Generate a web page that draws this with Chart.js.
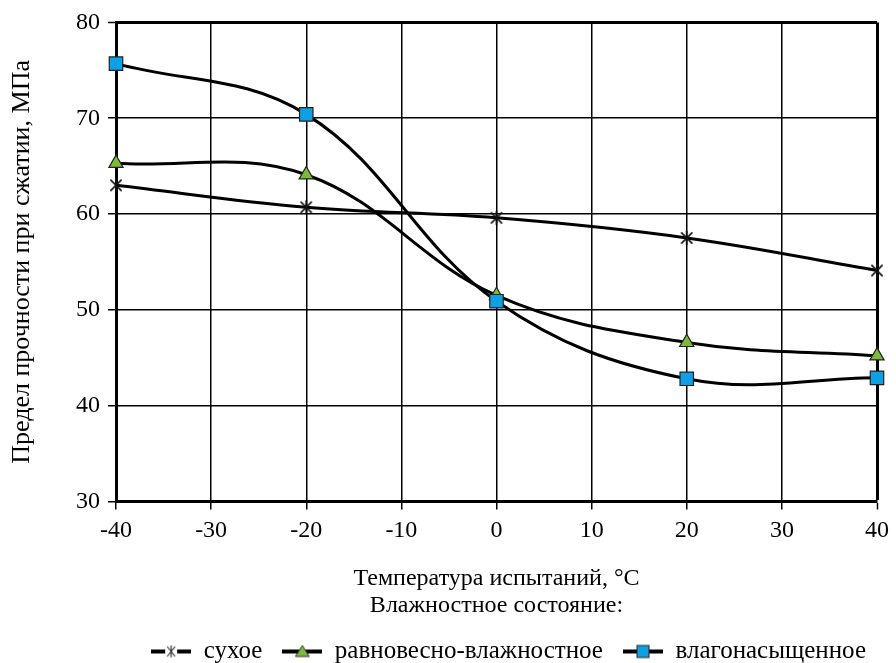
<!DOCTYPE html>
<html><head><meta charset="utf-8">
<script src="https://cdn.jsdelivr.net/npm/chart.js@4"></script>
<style>html,body{margin:0;padding:0;background:#fff}#w{width:896px;height:663px}</style>
</head><body><div id="w"><canvas id="c" width="896" height="663"></canvas></div>
<script>
const temperatures = [-40, -20, 0, 20, 40];
const dry = [63.0, 60.7, 59.6, 57.5, 54.1];
const equilibrium = [65.3, 64.1, 51.5, 46.6, 45.2];
const saturated = [75.7, 70.4, 50.9, 42.8, 42.9];
const seriesNames = ['сухое', 'равновесно-влажностное', 'влагонасыщенное'];
const yTicks = [30, 40, 50, 60, 70, 80];
const xTicks = [-40, -30, -20, -10, 0, 10, 20, 30, 40];

function starCanvas(size) {
  const c = document.createElement('canvas');
  c.width = size + 4; c.height = size + 4;
  const g = c.getContext('2d');
  const cx = c.width / 2, cy = c.height / 2, r = size / 2;
  g.strokeStyle = '#111'; g.lineWidth = 1.6;
  g.beginPath();
  g.moveTo(cx - r * 0.8, cy - r * 0.8); g.lineTo(cx + r * 0.8, cy + r * 0.8);
  g.moveTo(cx + r * 0.8, cy - r * 0.8); g.lineTo(cx - r * 0.8, cy + r * 0.8);
  g.moveTo(cx, cy - r); g.lineTo(cx, cy + r);
  g.stroke();
  return c;
}
function legendCanvas(kind) {
  const W = 40, H = 18;
  const c = document.createElement('canvas');
  c.width = W; c.height = H;
  const g = c.getContext('2d');
  const cy = H / 2, cx = W / 2;
  g.strokeStyle = '#000'; g.lineWidth = 4;
  g.beginPath(); g.moveTo(0, cy); g.lineTo(W, cy); g.stroke();
  if (kind === 'star') {
    g.fillStyle = '#fff'; g.fillRect(cx - 6, cy - 7, 12, 14);
    g.strokeStyle = '#333'; g.lineWidth = 1.2;
    g.beginPath();
    g.moveTo(cx - 4, cy - 5); g.lineTo(cx + 4, cy + 5);
    g.moveTo(cx + 4, cy - 5); g.lineTo(cx - 4, cy + 5);
    g.moveTo(cx, cy - 6); g.lineTo(cx, cy + 6);
    g.stroke();
  } else if (kind === 'tri') {
    g.fillStyle = '#7cbb3a'; g.strokeStyle = '#333'; g.lineWidth = 1;
    g.beginPath(); g.moveTo(cx, cy - 6); g.lineTo(cx + 7, cy + 5); g.lineTo(cx - 7, cy + 5); g.closePath(); g.fill(); g.stroke();
  } else {
    g.fillStyle = '#0fa0e4'; g.strokeStyle = '#222'; g.lineWidth = 1;
    g.fillRect(cx - 6, cy - 6, 12, 12); g.strokeRect(cx - 6, cy - 6, 12, 12);
  }
  return c;
}
const starPoint = starCanvas(14);
const legendImgs = [legendCanvas('star'), legendCanvas('tri'), legendCanvas('sq')];

function pts(arr) { return temperatures.map((t, i) => ({ x: t, y: arr[i] })); }

const font = "'Liberation Serif', 'Times New Roman', serif";
const ds = (label, data, style, fill, radius, order) => ({
  label, data: pts(data), borderColor: '#000', borderWidth: 3, tension: 0.38,
  pointStyle: style, pointRadius: radius, pointBackgroundColor: fill, order,
  pointBorderColor: '#222', pointBorderWidth: 1.2, clip: false, fill: false
});

function build() {
  new Chart(document.getElementById('c'), {
    type: 'line',
    data: {
      datasets: [
        ds(seriesNames[0], dry, starPoint, '#000', 7, 3),
        ds(seriesNames[1], equilibrium, 'triangle', '#7cbb3a', 8.2, 2),
        ds(seriesNames[2], saturated, 'rect', '#0fa0e4', 9.5, 1)
      ]
    },
    options: {
      responsive: false, animation: false, devicePixelRatio: 1,
      layout: { padding: { left: 4, right: 10, top: 22, bottom: -11 } },
      plugins: {
        tooltip: { enabled: false },
        legend: {
          position: 'bottom', align: 'end',
          labels: {
            usePointStyle: true, pointStyleWidth: 40, boxHeight: 18,
            padding: 20, color: '#000',
            font: { family: font, size: 25 },
            generateLabels: (chart) => seriesNames.map((n, i) => ({
              text: n, pointStyle: legendImgs[i], datasetIndex: i,
              fillStyle: '#000', strokeStyle: '#000', lineWidth: 0, fontColor: '#000'
            }))
          }
        }
      },
      scales: {
        x: {
          type: 'linear', min: -40, max: 40,
          afterBuildTicks: (s) => { s.ticks = xTicks.map(v => ({ value: v })); },
          ticks: { color: '#000', font: { family: font, size: 24 }, padding: 7 },
          grid: { color: '#000', lineWidth: (c) => (c.tick && c.tick.value === 40 ? 3 : 1.5), tickLength: 8, tickWidth: 1.5, tickColor: '#000' },
          border: { color: '#000', width: 3 },
          title: { display: true, text: ['Температура испытаний, °C', 'Влажностное состояние:'], color: '#000', font: { family: font, size: 24, lineHeight: 1.12 }, padding: { top: 13, bottom: 0 } }
        },
        y: {
          min: 30, max: 80,
          afterBuildTicks: (s) => { s.ticks = yTicks.map(v => ({ value: v })); },
          afterFit: (s) => { s.width = 112; },
          ticks: { color: '#000', font: { family: font, size: 24 }, padding: 8 },
          grid: { color: '#000', lineWidth: (c) => (c.tick && c.tick.value === 80 ? 3 : 1.5), tickLength: 8, tickWidth: 1.5, tickColor: '#000' },
          border: { color: '#000', width: 3 },
          title: { display: true, text: 'Предел прочности при сжатии, МПа', color: '#000', font: { family: font, size: 26 }, padding: { top: 3, bottom: 6 } }
        }
      }
    }
  });
}
Promise.all([
  document.fonts.load("24px 'Liberation Serif'", 'Предел 0123'),
  document.fonts.load("25px 'Liberation Serif'", 'сухое')
]).then(build, build);
</script></body></html>
